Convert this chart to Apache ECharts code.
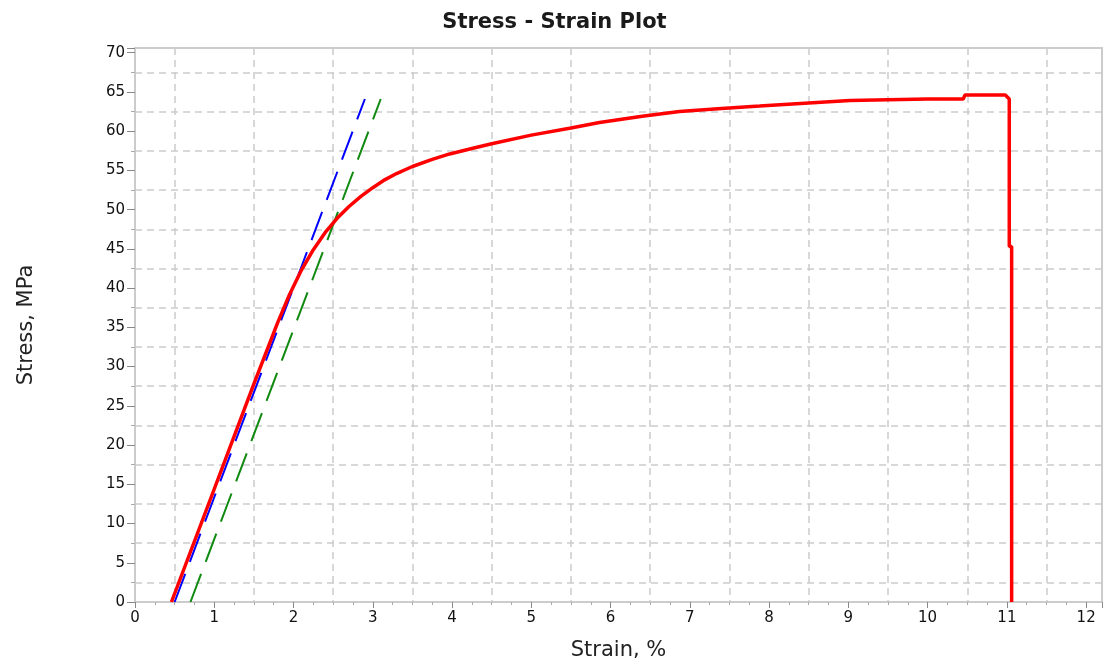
<!DOCTYPE html>
<html>
<head>
<meta charset="utf-8">
<script src="https://cdn.jsdelivr.net/npm/echarts@6/dist/echarts.min.js"></script>
<style>
  html, body { margin: 0; padding: 0; background: #fff; }
  #chart { width: 1109px; height: 662px; }
</style>
</head>
<body>
<div id="chart"></div>
<script>
// measured stress-strain curve (strain %, stress MPa)
var strain = [0.46, 1.0, 1.5, 1.8, 1.95, 2.1, 2.25, 2.4, 2.55, 2.7, 2.85, 3.0, 3.15, 3.3, 3.5, 3.75, 3.97, 4.25, 4.5, 5.0, 5.5, 5.86, 6.4, 6.87, 7.4, 7.88, 8.5, 9.02, 9.5, 10.0, 10.45, 10.47, 10.98, 11.03, 11.03, 11.06, 11.06];
var stress = [0, 14.4, 27.8, 35.6, 39.2, 42.3, 44.9, 47.1, 48.9, 50.4, 51.7, 52.8, 53.8, 54.6, 55.5, 56.4, 57.1, 57.8, 58.4, 59.5, 60.4, 61.1, 61.9, 62.5, 62.9, 63.2, 63.6, 63.9, 64.0, 64.1, 64.1, 64.6, 64.6, 64.1, 45.3, 45.3, 0];

// elastic modulus line and 0.2% offset line
var modulusStrain = [0.5, 2.9];
var modulusStress = [0, 64.1];
var offsetStrain = [0.7, 3.1];
var offsetStress = [0, 64.1];

var xMin = 0, xMax = 12.2;
var yMin = 0, yMax = 70.6;

function pairs (xs, ys) {
  var out = [];
  for (var i = 0; i < xs.length; i++) {
    out.push([xs[i], ys[i]]);
  }
  return out;
}

var font = 'DejaVu Sans';
var gridColor = '#cccccc';
var dashed = {
  show: true,
  lineStyle: { color: ['rgba(0,0,0,0)', gridColor], width: 1.5, type: [7, 5] }
};

var myChart = echarts.init(document.getElementById('chart'));
myChart.setOption({
  animation: false,
  title: {
    text: 'Stress - Strain Plot',
    left: 'center',
    top: 7,
    textStyle: { fontFamily: font, fontSize: 21, fontWeight: 'bold', color: '#1a1a1a' }
  },
  grid: {
    left: 135,
    right: 7,
    top: 48,
    bottom: 60,
    show: true,
    borderColor: gridColor,
    borderWidth: 2,
    outerBoundsMode: 'none'
  },
  xAxis: [
    {
      type: 'value',
      min: xMin,
      max: xMax,
      interval: 1,
      name: 'Strain, %',
      nameLocation: 'middle',
      nameGap: 38,
      nameTextStyle: { fontFamily: font, fontSize: 21, color: '#222' },
      axisLine: { show: true, lineStyle: { color: gridColor, width: 2 } },
      axisTick: { show: true, length: 6, lineStyle: { color: '#888' } },
      minorTick: { show: true, splitNumber: 4, length: 3, lineStyle: { color: '#aaa' } },
      axisLabel: {
        fontFamily: font,
        fontSize: 15,
        color: '#111',
        margin: 9,
        showMaxLabel: false,
        formatter: function (v) { return String(v); }
      },
      splitLine: { show: false }
    },
    {
      type: 'value',
      min: xMin,
      max: xMax,
      interval: 0.5,
      axisLine: { show: false },
      axisTick: { show: false },
      axisLabel: { show: false },
      splitLine: dashed
    }
  ],
  yAxis: [
    {
      type: 'value',
      min: yMin,
      max: yMax,
      interval: 5,
      name: 'Stress, MPa',
      nameLocation: 'middle',
      nameGap: 98,
      nameTextStyle: { fontFamily: font, fontSize: 21, color: '#222' },
      axisLine: { show: true, lineStyle: { color: gridColor, width: 2 } },
      axisTick: { show: true, length: 8, lineStyle: { color: '#888' } },
      minorTick: { show: true, splitNumber: 2, length: 4, lineStyle: { color: '#aaa' } },
      axisLabel: {
        fontFamily: font,
        fontSize: 15,
        color: '#111',
        margin: 10,
        showMaxLabel: false,
        formatter: function (v) { return String(v); }
      },
      splitLine: { show: false }
    },
    {
      type: 'value',
      min: yMin,
      max: yMax,
      interval: 2.5,
      axisLine: { show: false },
      axisTick: { show: false },
      axisLabel: { show: false },
      splitLine: dashed
    }
  ],
  series: [
    {
      name: 'Modulus',
      type: 'line',
      data: pairs(modulusStrain, modulusStress),
      showSymbol: false,
      lineStyle: { color: '#0000ff', width: 2, type: [30, 13] },
      z: 2
    },
    {
      name: '0.2% Offset',
      type: 'line',
      data: pairs(offsetStrain, offsetStress),
      showSymbol: false,
      lineStyle: { color: '#108a10', width: 2, type: [30, 13] },
      z: 2
    },
    {
      name: 'Stress',
      type: 'line',
      data: pairs(strain, stress),
      showSymbol: false,
      lineStyle: { color: '#ff0000', width: 3.5 },
      z: 3
    }
  ]
});
</script>
</body>
</html>
